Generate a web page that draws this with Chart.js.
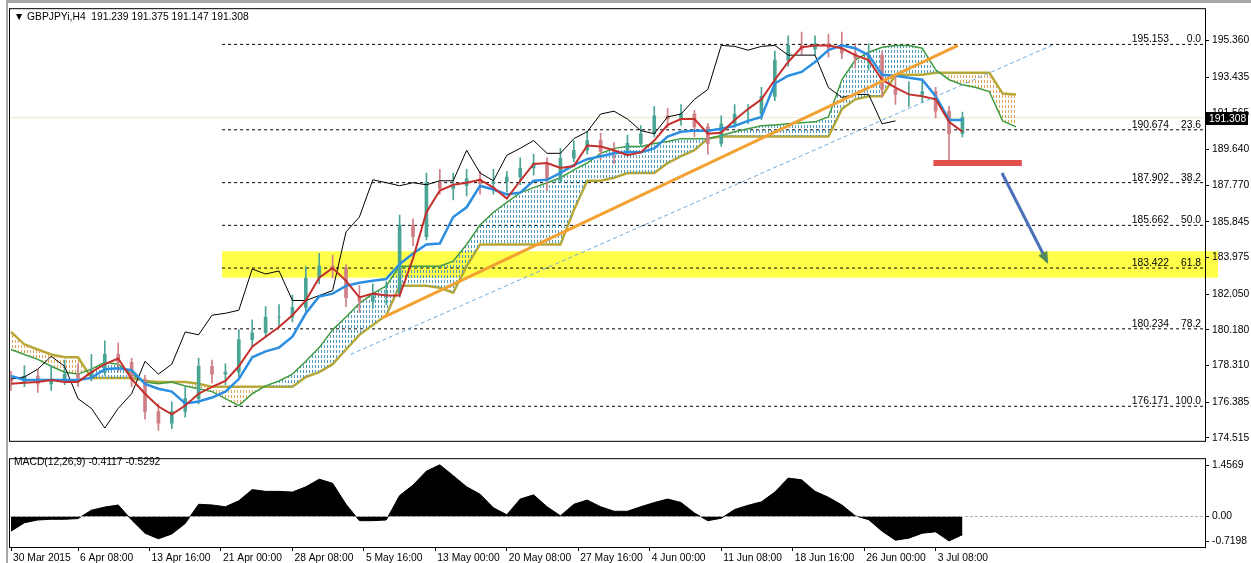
<!DOCTYPE html>
<html>
<head>
<meta charset="utf-8">
<script src="https://cdn.jsdelivr.net/npm/chart.js@4.4.0/dist/chart.umd.min.js"></script>
<style>
  html, body { margin: 0; padding: 0; background: #fff; }
  #wrap { position: relative; width: 1251px; height: 563px; overflow: hidden; background: #fff; }
  #priceChart { position: absolute; left: 0; top: 0; }
  #macdChart { position: absolute; left: 0; top: 450px; }
  .frameTop { position: absolute; left: 6px; top: 0; width: 1245px; height: 3px; background: #a8a8a8; }
  .frameLeft { position: absolute; left: 6px; top: 0; width: 2px; height: 563px; background: #a8a8a8; }
  .lbl { position: absolute; font: 10.3px "Liberation Sans", Arial, sans-serif; color: #000; white-space: pre; }
</style>
</head>
<body>
<div id="wrap">
  <div class="frameTop"></div>
  <div class="frameLeft"></div>
  <canvas id="priceChart" width="1251" height="450"></canvas>
  <canvas id="macdChart" width="1251" height="113"></canvas>
  <div class="lbl" style="left:14px; top:11px;">▼ GBPJPYi,H4  191.239 191.375 191.147 191.308</div>
  <div class="lbl" style="left:14px; top:456px;">MACD(12,26,9) -0.4117 -0.5292</div>
</div>
<script>
// one point per trading day (6 H4 bars)
var barsPerPoint = 6;

var closes = [
	177.45, 177.76, 177.35, 177.60, 177.86, 177.65, 177.96, 178.89, 178.48, 177.60,
	175.90, 175.29, 175.90, 176.57, 178.27, 177.86, 177.96, 179.67, 180.03, 180.85,
	180.85, 181.36, 182.90, 183.52, 183.42, 181.87, 181.67, 181.98, 182.08, 185.68,
	185.07, 187.90, 187.60, 187.74, 188.10, 187.85, 187.95, 188.20, 188.67, 188.93,
	188.05, 189.18, 189.60, 190.11, 189.54, 189.44, 189.96, 190.47, 191.40, 191.24,
	191.50, 190.83, 189.96, 190.99, 191.50, 191.50, 192.43, 194.33, 195.10, 194.90,
	195.20, 194.95, 194.70, 194.43, 194.59, 192.79, 192.53, 192.53, 192.68, 191.65,
	190.47, 191.31
];
var firstOpen = 177.60;
var highs = [
	178.0, 178.3, 178.1, 178.3, 178.6, 178.4, 178.9, 179.6, 179.5, 178.7,
	177.8, 176.3, 176.4, 177.2, 178.7, 178.6, 178.4, 180.2, 180.7, 181.4,
	181.5, 182.0, 183.5, 184.2, 184.1, 183.6, 182.5, 182.6, 182.7, 186.2,
	186.0, 188.4, 188.6, 188.4, 188.6, 188.5, 188.6, 188.5, 189.2, 189.4,
	189.2, 189.7, 190.1, 190.6, 190.5, 190.0, 190.4, 190.9, 191.9, 191.8,
	192.0, 191.7, 191.0, 191.4, 192.0, 192.0, 192.9, 194.8, 195.6, 195.8,
	195.6, 195.7, 195.8, 195.2, 195.2, 194.8, 193.6, 193.2, 193.2, 192.9,
	191.9, 191.6
];
var lows = [
	177.0, 177.2, 176.9, 177.0, 177.3, 177.2, 177.5, 177.8, 178.0, 177.2,
	175.5, 174.9, 175.0, 175.6, 176.3, 177.4, 177.3, 177.7, 179.3, 179.8,
	180.3, 180.6, 181.1, 182.6, 182.9, 181.4, 181.1, 181.3, 181.5, 181.9,
	184.6, 184.9, 187.3, 187.0, 187.2, 187.3, 187.3, 187.4, 187.8, 188.3,
	187.5, 187.9, 189.0, 189.4, 189.1, 188.9, 189.3, 189.8, 190.3, 190.8,
	190.9, 190.3, 189.4, 189.8, 190.8, 191.0, 191.2, 192.2, 194.0, 194.6,
	194.6, 194.5, 194.4, 193.9, 193.8, 192.4, 192.0, 191.9, 192.1, 191.3,
	189.0, 190.3
];
var tenkan = [
	177.35, 177.40, 177.45, 177.55, 177.45, 177.45, 177.96, 178.38, 178.68, 177.60,
	176.83, 176.16, 175.75, 176.21, 176.83, 177.19, 177.50, 178.27, 179.30, 179.82,
	180.33, 180.95, 181.72, 182.91, 183.42, 182.75, 181.88, 182.08, 181.98, 181.98,
	183.93, 186.35, 187.49, 187.79, 187.90, 188.05, 187.64, 187.07, 188.00, 188.88,
	188.93, 188.67, 188.77, 189.85, 189.80, 189.60, 189.34, 189.49, 190.11, 190.93,
	191.24, 191.24, 190.47, 190.52, 191.19, 191.76, 192.27, 193.30, 194.23, 195.00,
	195.10, 195.10, 194.95, 194.59, 194.33, 193.30, 192.89, 192.53, 192.43, 192.27,
	191.09, 190.57
];
var kijun = [
	177.76, 177.55, 177.55, 177.55, 177.55, 177.55, 177.66, 178.12, 178.17, 178.07,
	177.35, 177.09, 176.94, 176.32, 176.42, 176.63, 176.94, 177.60, 178.74, 179.05,
	179.25, 179.82, 181.05, 181.93, 182.08, 182.49, 182.65, 182.75, 182.85, 183.63,
	184.19, 184.66, 184.71, 186.10, 186.61, 187.74, 187.54, 187.28, 187.38, 188.00,
	188.05, 188.41, 188.82, 189.13, 189.29, 189.44, 189.49, 189.49, 189.70, 190.32,
	190.57, 190.63, 190.63, 190.73, 190.88, 191.14, 191.35, 193.10, 193.51, 193.71,
	194.23, 194.85, 195.10, 194.95, 194.59, 193.56, 193.51, 193.40, 193.30, 192.43,
	191.19, 191.19
];
var chikou = [
	177.60, 177.71, 178.12, 178.79, 178.27, 176.57, 176.06, 175.03, 176.06, 176.83,
	178.53, 177.86, 178.38, 180.07, 179.92, 180.95, 181.05, 181.21, 183.37, 183.11,
	183.27, 181.72, 181.72, 181.98, 182.24, 185.32, 186.10, 188.05, 187.90, 187.74,
	187.90, 187.79, 188.00, 188.00, 189.60, 188.41, 188.00, 189.34, 189.70, 190.11,
	189.44, 189.44, 190.21, 190.57, 191.50, 191.65, 191.24, 190.63, 190.47, 191.35,
	191.50, 192.27, 192.79, 195.10, 195.05, 194.85, 195.05, 195.10, 194.59, 194.59,
	194.59, 192.89, 192.37, 192.53, 192.53, 190.99, 191.14
];
var spanA = [
	179.15, 178.89, 178.63, 178.27, 177.96, 177.86, 178.12, 178.48, 178.38, 177.86,
	177.45, 177.35, 177.45, 177.24, 177.09, 176.94, 176.57, 176.21, 176.83, 177.24,
	177.50, 177.86, 178.53, 179.25, 180.18, 180.85, 181.57, 182.08, 182.49, 183.52,
	183.52, 183.52, 183.52, 183.78, 184.66, 185.68, 186.35, 186.87, 187.38, 187.64,
	187.90, 188.16, 188.57, 188.93, 189.44, 189.70, 189.80, 189.80, 189.96, 190.06,
	190.21, 190.21, 190.21, 190.37, 190.57, 190.73, 190.88, 190.93, 190.99, 191.04,
	191.09, 191.35, 193.30, 194.33, 194.74, 195.00, 195.10, 195.10, 194.95, 193.82,
	193.30, 193.04, 192.89, 192.68, 191.14, 190.83
];
var spanB = [
	180.07, 179.41, 179.15, 178.89, 178.74, 178.74, 177.66, 177.66, 177.66, 177.66,
	177.50, 177.45, 177.45, 177.45, 177.35, 177.19, 177.19, 177.19, 177.19, 177.19,
	177.19, 177.19, 177.71, 177.96, 178.38, 179.15, 179.92, 180.44, 180.95, 182.49,
	182.49, 182.49, 182.39, 182.13, 183.52, 184.66, 184.66, 184.66, 184.66, 184.66,
	184.66, 184.66, 186.46, 188.00, 188.00, 188.16, 188.41, 188.41, 188.41, 188.93,
	189.29, 189.60, 190.21, 190.32, 190.32, 190.32, 190.32, 190.32, 190.32, 190.32,
	190.32, 190.32, 191.76, 192.27, 192.43, 192.43, 193.56, 193.56, 193.56, 193.66,
	193.66, 193.66, 193.66, 193.66, 192.58, 192.53
];
var macd = [
	-0.42, -0.18, -0.10, -0.08, -0.08, -0.06, 0.18, 0.27, 0.33, -0.10,
	-0.48, -0.64, -0.50, -0.20, 0.35, 0.33, 0.28, 0.45, 0.77, 0.72,
	0.72, 0.70, 0.85, 1.07, 0.95, 0.35, -0.12, -0.12, -0.10, 0.60,
	0.90, 1.30, 1.48, 1.17, 0.85, 0.64, 0.25, 0.05, 0.50, 0.62,
	0.28, 0.02, 0.35, 0.47, 0.28, 0.15, 0.15, 0.28, 0.40, 0.50,
	0.40, 0.10, -0.12, -0.05, 0.20, 0.32, 0.42, 0.70, 1.10, 1.05,
	0.72, 0.55, 0.33, 0.02, -0.09, -0.42, -0.68, -0.62, -0.48, -0.44,
	-0.70, -0.52
];

// time axis (in H4 bars from the first bar)
var tickBars = [0, 30, 62, 94, 126, 158, 190, 222, 254, 286, 318, 350, 382, 414];
var tickLabels = ["30 Mar 2015", "6 Apr 08:00", "13 Apr 16:00", "21 Apr 00:00", "28 Apr 08:00",
	"5 May 16:00", "13 May 00:00", "20 May 08:00", "27 May 16:00", "4 Jun 00:00",
	"11 Jun 08:00", "18 Jun 16:00", "26 Jun 00:00", "3 Jul 08:00"];
var priceTicks = [195.360, 193.435, 191.565, 189.640, 187.770, 185.845, 183.975, 182.050, 180.180, 178.310, 176.385, 174.515];
var macdTicks = [1.4569, 0, -0.7198];

// drawn objects
var fibLevels = [195.153, 190.674, 187.902, 185.662, 183.422, 180.234, 176.171];
var fibPercents = ["0.0", "23.6", "38.2", "50.0", "61.8", "78.2", "100.0"];
var fibStartBar = 94.5;
var lastPrice = 191.308;
var zoneTop = 184.30, zoneBottom = 182.92;
var trendUp = [[166, 180.80], [424, 195.10]];
var trendDash = [[152, 178.89], [466, 195.10]];
var supportLine = [[413, 188.93], [452.6, 188.93]];
var arrowLine = [[443.7, 188.41], [463.8, 183.78]];

var X_MIN = -0.45, X_MAX = 534.6;
var FONT = '"Liberation Sans", Arial, sans-serif';
var FONT_SIZE = 10.3;

Chart.defaults.font.family = FONT;
Chart.defaults.font.size = FONT_SIZE;
Chart.defaults.color = "#000";
Chart.defaults.animation = false;
Chart.defaults.events = [];
Chart.defaults.elements.point.radius = 0;
Chart.defaults.plugins.legend.display = false;
Chart.defaults.plugins.tooltip.enabled = false;

function series( arr ) {
	return arr.map( function( v, i ) { return { x: i * barsPerPoint, y: v }; } );
}
function segment( pts ) {
	return pts.map( function( p ) { return { x: p[0], y: p[1] }; } );
}
function hatch( color ) {
	var c = document.createElement( "canvas" );
	c.width = 3; c.height = 5;
	var g = c.getContext( "2d" );
	g.fillStyle = color;
	g.fillRect( 0, 0, 1, 3 );
	return g.createPattern( c, "repeat" );
}

var opens = closes.map( function( c, i ) { return i ? closes[ i - 1 ] : firstOpen; } );
var candleColors = closes.map( function( c, i ) { return c >= opens[ i ] ? "#4aa596" : "#cf7f86"; } );

// pane frame
var paneFrame = {
	id: "paneFrame",
	afterDraw: function( chart ) {
		var a = chart.chartArea, ctx = chart.ctx;
		ctx.save();
		ctx.strokeStyle = "#000";
		ctx.lineWidth = 1;
		ctx.strokeRect( a.left - 0.5, a.top - 0.5, a.right - a.left + 1, a.bottom - a.top + 1 );
		ctx.restore();
	}
};

// yellow target zone, under the axis labels
var zonePlugin = {
	id: "zone",
	beforeDraw: function( chart ) {
		var sx = chart.scales.x, sy = chart.scales.y, ctx = chart.ctx;
		var x0 = sx.getPixelForValue( fibStartBar );
		var y0 = sy.getPixelForValue( zoneTop ), y1 = sy.getPixelForValue( zoneBottom );
		ctx.save();
		ctx.fillStyle = "#ffff4a";
		ctx.fillRect( x0, y0, chart.chartArea.right + 13 - x0, y1 - y0 );
		ctx.restore();
	}
};

var labelsPlugin = {
	id: "fibLabels",
	afterDatasetsDraw: function( chart ) {
		var sy = chart.scales.y, a = chart.chartArea, ctx = chart.ctx;
		ctx.save();
		ctx.font = FONT_SIZE + "px " + FONT;
		ctx.fillStyle = "#000";
		ctx.textBaseline = "alphabetic";
		ctx.textAlign = "right";
		fibLevels.forEach( function( lvl, i ) {
			var y = sy.getPixelForValue( lvl );
			ctx.fillText( lvl.toFixed( 3 ), a.right - 36, y - 2 );
			ctx.fillText( fibPercents[ i ], a.right - 4, y - 2 );
		} );
		// arrow head
		var meta = chart.getDatasetMeta( arrowIndex );
		var p0 = meta.data[0], p1 = meta.data[1];
		var ang = Math.atan2( p1.y - p0.y, p1.x - p0.x );
		ctx.translate( p1.x, p1.y );
		ctx.rotate( ang );
		ctx.beginPath();
		ctx.moveTo( 3, 0 );
		ctx.lineTo( -9, -5 );
		ctx.lineTo( -9, 5 );
		ctx.closePath();
		ctx.fillStyle = "#4f8a5a";
		ctx.fill();
		ctx.restore();
	},
	afterDraw: function( chart ) {
		var sy = chart.scales.y, a = chart.chartArea, ctx = chart.ctx;
		var y = Math.round( sy.getPixelForValue( lastPrice ) );
		ctx.save();
		ctx.fillStyle = "#000";
		ctx.fillRect( a.right + 1, y - 6, 42, 13 );
		ctx.fillStyle = "#fff";
		ctx.font = FONT_SIZE + "px " + FONT;
		ctx.textBaseline = "middle";
		ctx.textAlign = "left";
		ctx.fillText( lastPrice.toFixed( 3 ), a.right + 4, y + 1 );
		ctx.restore();
	}
};

var bluePat = hatch( "#4f9cc0" );
var orangePat = hatch( "#e2a45c" );

var datasets = [];

// current price line
datasets.push( { type: "line", data: [ { x: X_MIN, y: lastPrice }, { x: X_MAX, y: lastPrice } ],
	borderColor: "#ebe8c8", borderWidth: 1, order: 30 } );

// fibonacci levels
fibLevels.forEach( function( lvl ) {
	datasets.push( { type: "line", data: [ { x: fibStartBar, y: lvl }, { x: X_MAX, y: lvl } ],
		borderColor: "#000", borderWidth: 1, borderDash: [ 3, 3 ], order: 25 } );
} );

// cloud
datasets.push( { type: "line", data: series( spanA ), borderColor: "#3f9b3f", borderWidth: 1.5,
	fill: { target: "+1", above: bluePat, below: orangePat }, order: 20 } );
datasets.push( { type: "line", data: series( spanB ), borderColor: "#b7a834", borderWidth: 2.5, order: 20 } );

// candles
datasets.push( { type: "bar", data: lows.map( function( l, i ) { return { x: i * barsPerPoint, y: [ l, highs[ i ] ] }; } ),
	backgroundColor: candleColors, barThickness: 1, grouped: false, order: 10 } );
datasets.push( { type: "bar", data: closes.map( function( c, i ) {
		return { x: i * barsPerPoint, y: [ Math.min( c, opens[ i ] ), Math.max( c, opens[ i ] ) ] }; } ),
	backgroundColor: candleColors, barThickness: 3, grouped: false, order: 10 } );

// ichimoku lines
datasets.push( { type: "line", data: series( chikou ), borderColor: "#000", borderWidth: 1, order: 4 } );
datasets.push( { type: "line", data: series( kijun ), borderColor: "#2b8ee0", borderWidth: 2.5, order: 3 } );
datasets.push( { type: "line", data: series( tenkan ), borderColor: "#c4302c", borderWidth: 2, order: 2 } );

// trend lines and marks
datasets.push( { type: "line", data: segment( trendDash ), borderColor: "#6fa8d8", borderWidth: 1, borderDash: [ 4, 3 ], order: 1 } );
datasets.push( { type: "line", data: segment( trendUp ), borderColor: "#f2a132", borderWidth: 3, order: 1 } );
datasets.push( { type: "line", data: segment( supportLine ), borderColor: "#e0504c", borderWidth: 6, order: 1 } );
var arrowIndex = datasets.length;
datasets.push( { type: "line", data: segment( arrowLine ), borderColor: "#4a70b8", borderWidth: 3, order: 0 } );

var priceChart = new Chart( document.getElementById( "priceChart" ).getContext( "2d" ), {
	type: "line",
	data: { datasets: datasets },
	options: {
		responsive: false,
		layout: { padding: { left: 10, top: 8, right: 0, bottom: 2 } },
		scales: {
			x: {
				type: "linear", min: X_MIN, max: X_MAX, offset: false, display: false
			},
			y: {
				position: "right",
				min: 174.36, max: 197.0,
				afterFit: function( scale ) { scale.width = 46; },
				afterBuildTicks: function( scale ) {
					scale.ticks = priceTicks.map( function( v ) { return { value: v }; } );
				},
				ticks: {
					padding: 3,
					callback: function( v ) { return Number( v ).toFixed( 3 ); }
				},
				grid: { drawOnChartArea: false, tickLength: 4, color: "#000" },
				border: { color: "#000" }
			}
		}
	},
	plugins: [ zonePlugin, labelsPlugin, paneFrame ]
} );

var macdChart = new Chart( document.getElementById( "macdChart" ).getContext( "2d" ), {
	type: "line",
	data: {
		datasets: [
			{ data: [ { x: X_MIN, y: 0 }, { x: X_MAX, y: 0 } ], borderColor: "#b0b0b0", borderWidth: 1, borderDash: [ 3, 2 ], order: 0 },
			{ data: series( macd ), borderColor: "#000", backgroundColor: "#000", borderWidth: 1, fill: "origin", order: 1 }
		]
	},
	options: {
		responsive: false,
		layout: { padding: { left: 10, top: 2, right: 0, bottom: 0 } },
		scales: {
			x: {
				type: "linear", min: X_MIN, max: X_MAX, offset: false,
				afterFit: function( scale ) { scale.height = 16; },
				afterBuildTicks: function( scale ) {
					scale.ticks = tickBars.map( function( v ) { return { value: v }; } );
				},
				ticks: {
					autoSkip: false, maxRotation: 0, align: "start", padding: 1, labelOffset: 2,
					callback: function( v, i ) { return tickLabels[ i ]; }
				},
				grid: { drawOnChartArea: false, tickLength: 4, color: "#000" },
				border: { color: "#000" }
			},
			y: {
				position: "right",
				min: -0.874, max: 1.642,
				afterFit: function( scale ) { scale.width = 46; },
				afterBuildTicks: function( scale ) {
					scale.ticks = macdTicks.map( function( v ) { return { value: v }; } );
				},
				ticks: {
					padding: 3,
					callback: function( v ) { return v === 0 ? "0.00" : Number( v ).toFixed( 4 ); }
				},
				grid: { drawOnChartArea: false, tickLength: 4, color: "#000" },
				border: { color: "#000" }
			}
		}
	},
	plugins: [ paneFrame ]
} );
</script>
</body>
</html>
